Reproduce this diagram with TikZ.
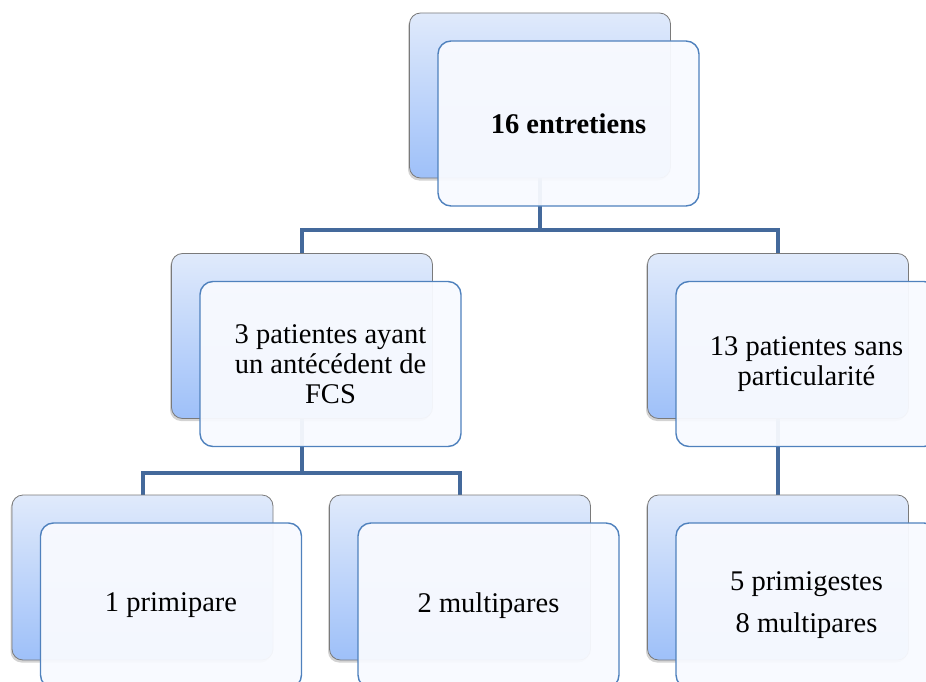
\documentclass[tikz,border=0pt]{standalone}
\usepackage{fontspec}
\setmainfont{Liberation Serif}
\usetikzlibrary{shadows,backgrounds}
\definecolor{conn}{HTML}{44699B}
\definecolor{backedge}{HTML}{7A7A7A}
\definecolor{backtop}{HTML}{E0EAFB}
\definecolor{backbot}{HTML}{9EC0F9}
\definecolor{frontedge}{HTML}{4F81BD}
\definecolor{frontfill}{HTML}{F8FAFF}
\pgfdeclarelayer{bg}
\pgfsetlayers{bg,main}
\begin{document}
\begin{tikzpicture}[x=1pt,y=-1pt,
  backbox/.style={rectangle, rounded corners=11pt, minimum width=261pt, minimum height=165pt,
    draw=backedge, line width=0.8pt, top color=backtop, bottom color=backbot,
    drop shadow={shadow xshift=-1.5pt, shadow yshift=-2.5pt, opacity=0.35}},
  frontbox/.style={rectangle, rounded corners=13pt, minimum width=261pt, minimum height=165pt,
    draw=frontedge, line width=1.4pt, fill=frontfill, fill opacity=0.95, text opacity=1,
    draw opacity=1, align=center, font=\fontsize{28.5}{30}\selectfont, inner sep=0pt},
  connector/.style={draw=conn, line width=4pt}]
\useasboundingbox (0,0) rectangle (926,682);
% back boxes
\node[backbox] (tb)  at (540,95.5) {};
\node[backbox] (mlb) at (302,336) {};
\node[backbox] (mrb) at (778,336) {};
\node[backbox] (blb) at (142.5,577.5) {};
\node[backbox] (bmb) at (460,577.5) {};
\node[backbox] (brb) at (778,577.5) {};
% front boxes
\node[frontbox] (tf)  at (568.5,123.5) {\textbf{16 entretiens}};
\node[frontbox] (mlf) at (330.5,364) {3 patientes ayant\\un antécédent de\\FCS};
\node[frontbox] (mrf) at (806.5,364) {13 patientes sans\\particularité};
\node[frontbox] (blf) at (171,605.5) {1 primipare};
\node[frontbox] (bmf) at (488.5,605.5) {2 multipares};
\node[frontbox] (brf) at (806.5,605.5) {5 primigestes\\[12pt]8 multipares};
% connectors
\begin{pgfonlayer}{bg}
\draw[connector] (tb.south) -- ++(0,52) coordinate (j1) -| (mlb.north);
\draw[connector] (j1) -| (mrb.north);
\draw[connector] (mlb.south) -- ++(0,54.5) coordinate (j2) -| (blb.north);
\draw[connector] (j2) -| (bmb.north);
\draw[connector] (mrb.south) -- (brb.north);
\end{pgfonlayer}
\end{tikzpicture}
\end{document}
